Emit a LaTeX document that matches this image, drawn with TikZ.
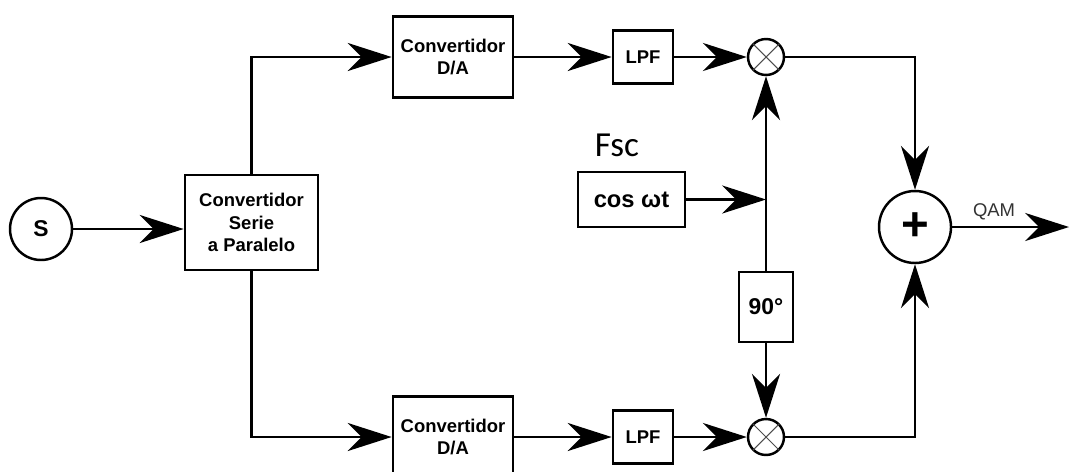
\documentclass[tikz,border=0pt]{standalone}
\usepackage{fontspec}
\setmainfont{Liberation Sans}
\newfontfamily\fscfont{Carlito}
\usetikzlibrary{arrows.meta}

\tikzset{
    blk/.style={draw, line width=1.6pt, rectangle, inner sep=0pt, align=center,
        font=\bfseries\fontsize{10.5}{13}\selectfont},
    rnd/.style={draw, line width=1.4pt, circle, inner sep=0pt},
    wire/.style={line width=1.4pt},
    arr/.style={wire, -{Stealth[length=25pt,width=16pt,inset=8pt]}},
}

\begin{document}
\begin{tikzpicture}[x=0.02cm,y=-0.02cm]
    \useasboundingbox (0,0) rectangle (1071,471);
    % Источник и преобразователь последовательного кода в параллельный
    \node[rnd, minimum size=1.24cm, font=\bfseries\fontsize{13}{15}\selectfont] (src) at (41,229) {S};
    \node[blk, minimum width=2.66cm, minimum height=1.9cm] (sp) at (251.5,222.5) {Convertidor\\Serie\\a Paralelo};
    % Верхняя и нижняя ветви: ЦАП, ФНЧ, смеситель
    \node[blk, minimum width=2.4cm, minimum height=1.62cm] (da1) at (453,57) {Convertidor\\D/A};
    \node[blk, minimum width=1.2cm, minimum height=1.06cm] (lpf1) at (643,57) {LPF};
    \node[rnd, minimum size=0.72cm] (mul1) at (766,57) {};
    \node[blk, minimum width=2.4cm, minimum height=1.62cm] (da2) at (453,437) {Convertidor\\D/A};
    \node[blk, minimum width=1.2cm, minimum height=1.06cm] (lpf2) at (643,437) {LPF};
    \node[rnd, minimum size=0.72cm] (mul2) at (766,437) {};
    \foreach \m in {mul1,mul2} {
        \draw[line width=0.6pt, black!70] (\m.north east) -- (\m.south west)
            (\m.north west) -- (\m.south east);
    }
    % Несущая и фазовращатель
    \node[font=\fscfont\fontsize{20}{24}\selectfont] (fsc) at (617,145) {Fsc};
    \node[blk, minimum width=2.14cm, minimum height=1.1cm, font=\bfseries\fontsize{13.5}{15}\selectfont] (osc) at (631.5,199.5) {cos ωt};
    \coordinate (jn) at (osc -| mul1);
    \node[blk, minimum width=1.08cm, minimum height=1.4cm, font=\bfseries\fontsize{13}{15}\selectfont] (ph) at (766,307) {90°};
    % Сумматор и выход
    \node[rnd, minimum size=1.44cm, font=\bfseries\fontsize{27}{28}\selectfont] (sum) at (915,227) {+};
    \coordinate (out) at (1069,227);
    \node[font=\fontsize{10.5}{12}\selectfont, text=black!80] (qam) at (994,212) {QAM};

    \draw[arr] (src) -- (src -| sp.west);
    \draw[arr] (sp.north) |- (da1.west);
    \draw[arr] (sp.south) |- (da2.west);
    \draw[arr] (da1) -- (lpf1);
    \draw[arr] (lpf1) -- (mul1);
    \draw[arr] (da2) -- (lpf2);
    \draw[arr] (lpf2) -- (mul2);
    \draw[arr] (osc) -- (jn);
    \draw[arr] (jn) -- (mul1);
    \draw[wire] (jn) -- (ph);
    \draw[arr] (ph) -- (mul2);
    \draw[arr] (mul1) -| (sum.north);
    \draw[arr] (mul2) -| (sum.south);
    \draw[arr] (sum) -- (out);
\end{tikzpicture}
\end{document}
